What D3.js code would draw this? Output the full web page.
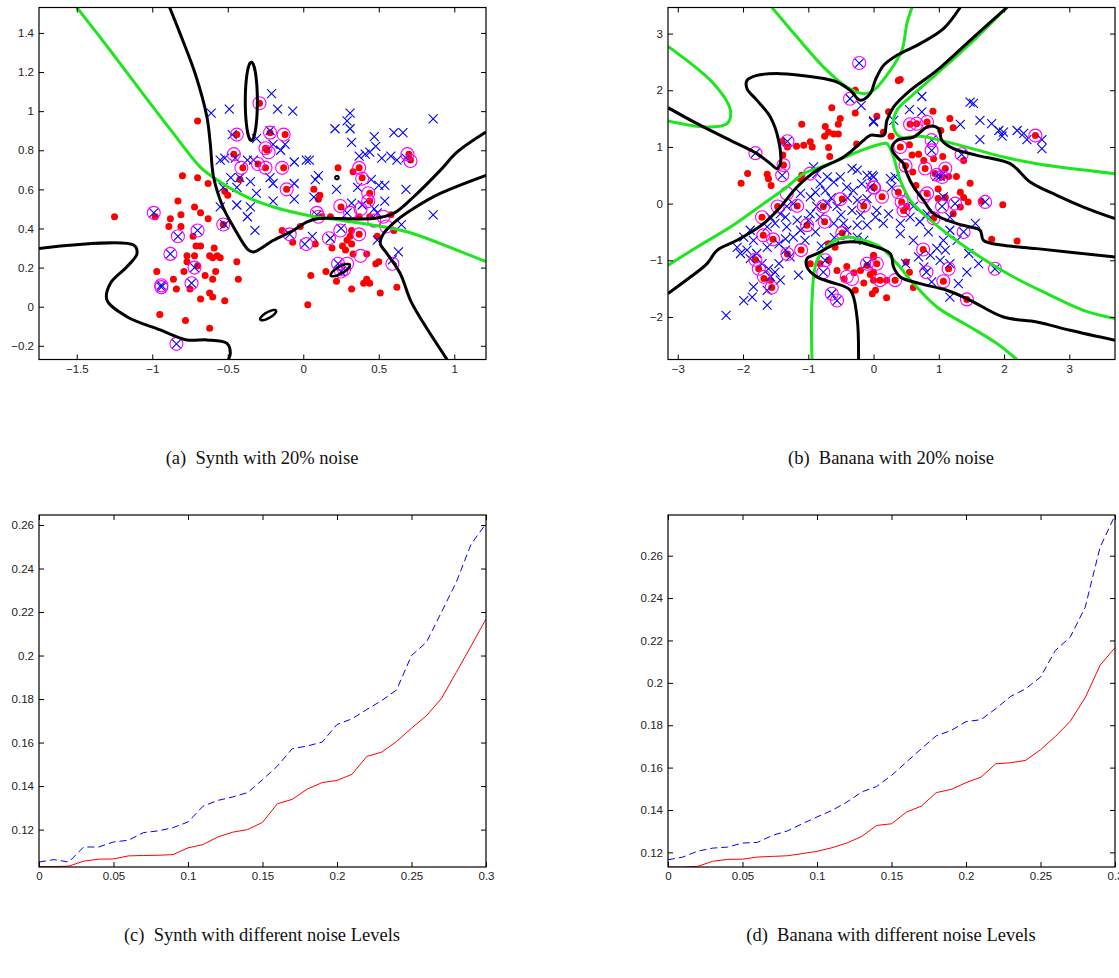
<!DOCTYPE html>
<html>
<head>
<meta charset="utf-8">
<script src="https://cdn.jsdelivr.net/npm/d3@7/dist/d3.min.js"></script>
<style>
  body, html { margin: 0; padding: 0; background: #fff; }
  svg { display: block; }
  .tick text { font-family: "Liberation Sans", Arial, sans-serif; font-size: 11.5px; fill: #222; }
  .caption { font-family: "Liberation Serif", "Times New Roman", serif; font-size: 18.5px; fill: #111; }
</style>
</head>
<body>
<svg></svg>
<script>

// ---- data ----
var synthXTicks = [-1.5, -1, -0.5, 0, 0.5, 1],
    synthYTicks = [-0.2, 0, 0.2, 0.4, 0.6, 0.8, 1, 1.2, 1.4],
    bananaXTicks = [-3, -2, -1, 0, 1, 2, 3],
    bananaYTicks = [-2, -1, 0, 1, 2, 3],
    noiseTicks = [0, 0.05, 0.1, 0.15, 0.2, 0.25, 0.3],
    errTicks = [0.12, 0.14, 0.16, 0.18, 0.2, 0.22, 0.24, 0.26];

var synthRed = [[-0.29,1.04],[-0.70,0.95],[-0.44,0.88],[-0.22,0.89],[-0.12,0.88],[-0.25,0.81],[-0.24,0.80],[-0.46,0.78],[-0.30,0.73],[-0.25,0.71],[-0.40,0.71],[-0.13,0.71],[-0.80,0.67],[-0.70,0.66],[-0.63,0.63],[-0.42,0.65],[-0.52,0.59],[-0.50,0.57],[-0.11,0.60],[-0.83,0.54],[-0.72,0.51],[-0.68,0.48],[-0.81,0.47],[-0.63,0.45],[-0.88,0.45],[-0.98,0.46],[-1.25,0.46],[-0.89,0.41],[-0.81,0.41],[-0.53,0.42],[-0.73,0.36],[-0.71,0.31],[-0.68,0.31],[-0.59,0.30],[-0.62,0.26],[-0.57,0.26],[-0.55,0.25],[-0.60,0.25],[-0.77,0.26],[-0.72,0.26],[-0.77,0.23],[-0.44,0.23],[-0.97,0.18],[-0.79,0.18],[-0.70,0.21],[-0.58,0.18],[-0.65,0.16],[-0.86,0.14],[-0.60,0.14],[-0.43,0.14],[-0.84,0.09],[-0.75,0.09],[-0.62,0.07],[-0.68,0.04],[-0.60,0.05],[-0.52,0.03],[-0.95,-0.04],[-0.78,-0.07],[-0.62,-0.11],[-0.14,0.39],[-0.02,0.41],[-0.07,0.33],[0.03,0.01],
  [0.23,0.71],[0.33,0.69],[0.37,0.71],[0.39,0.66],[0.07,0.60],[0.11,0.57],[0.10,0.55],[0.44,0.58],[0.44,0.54],[0.25,0.51],[0.70,0.78],[0.71,0.75],[0.12,0.46],[0.18,0.46],[0.37,0.46],[0.44,0.46],[0.58,0.47],[0.32,0.39],[0.31,0.36],[0.37,0.37],[0.29,0.34],[0.32,0.32],[0.26,0.31],[0.28,0.29],[0.08,0.32],[0.19,0.30],[0.49,0.36],[0.42,0.27],[0.33,0.27],[0.48,0.22],[0.50,0.23],[0.60,0.39],[0.15,0.18],[0.05,0.16],[0.22,0.13],[0.42,0.14],[0.44,0.12],[0.40,0.12],[0.32,0.09],[0.51,0.07],[0.62,0.10]];

var synthBlue = [[-0.21,1.09],[-0.17,1.01],[-0.07,1.00],[-0.49,1.01],[-0.61,0.99],[-0.22,0.90],[-0.47,0.88],[-0.31,0.86],[-0.20,0.83],[-0.12,0.83],[-0.15,0.80],[-0.55,0.75],[-0.52,0.76],[-0.45,0.76],[-0.37,0.75],[-0.33,0.75],[-0.06,0.74],[0.02,0.75],[-0.48,0.66],[-0.42,0.66],[-0.35,0.64],[-0.22,0.66],[-0.53,0.61],[-0.44,0.61],[-0.31,0.58],[-0.20,0.63],[-0.06,0.63],[-0.06,0.55],[-0.55,0.51],[-0.44,0.52],[-0.35,0.51],[-0.20,0.54],[-0.37,0.46],[-0.32,0.39],[-0.52,0.42],[-0.99,0.48],[-0.83,0.36],[-0.70,0.39],[-0.88,0.27],[-0.72,0.20],[-0.74,0.12],[-0.94,0.11],[-0.94,0.10],[-0.84,-0.19],[-0.09,0.37],[0.01,0.32],
  [0.31,0.99],[0.29,0.95],[0.31,0.91],[0.21,0.91],[0.32,0.84],[0.60,0.89],[0.66,0.89],[0.47,0.87],[0.86,0.96],[0.48,0.82],[0.37,0.77],[0.41,0.78],[0.44,0.79],[0.52,0.76],[0.58,0.77],[0.62,0.75],[0.68,0.76],[0.04,0.75],[0.10,0.67],[0.08,0.65],[0.22,0.60],[0.07,0.56],[0.45,0.65],[0.50,0.62],[0.54,0.62],[0.68,0.60],[0.36,0.61],[0.32,0.53],[0.39,0.52],[0.54,0.54],[0.47,0.50],[0.49,0.48],[0.86,0.47],[0.09,0.47],[0.25,0.40],[0.29,0.48],[0.65,0.42],[0.06,0.36],[0.18,0.35],[0.49,0.34],[0.63,0.28],[0.59,0.24],[0.25,0.18],[0.23,0.22]];

var synthSV = [[-0.29,1.04],[-0.44,0.88],[-0.22,0.89],[-0.13,0.88],[-0.25,0.81],[-0.23,0.79],[-0.46,0.78],[-0.30,0.73],[-0.25,0.71],[-0.41,0.71],[-0.14,0.71],[-0.11,0.60],[-0.53,0.42],[-0.99,0.48],[-0.83,0.36],[-0.70,0.39],[-0.88,0.27],[-0.72,0.20],[-0.74,0.12],[-0.94,0.11],[-0.94,0.10],[-0.84,-0.19],[-0.09,0.37],[0.02,0.32],[0.09,0.48],[0.17,0.35],[0.245,0.39],[0.245,0.515],[0.37,0.71],[0.39,0.655],[0.43,0.58],[0.43,0.54],[0.38,0.50],[0.31,0.48],[0.47,0.44],[0.53,0.46],[0.55,0.41],[0.59,0.22],[0.37,0.37],[0.38,0.26],[0.23,0.22],[0.29,0.22],[0.27,0.19],[0.69,0.78],[0.71,0.745],[0.10,0.46],[0.25,0.18]];

// decision boundaries
var synthBlack = [
  [[-0.885,1.53],[-0.815,1.395],[-0.715,1.19],[-0.638,0.97],[-0.616,0.835],[-0.594,0.663],[-0.532,0.51],[-0.462,0.408],[-0.362,0.289],[-0.329,0.28],[-0.197,0.34],[-0.064,0.391],[0.025,0.434],[0.101,0.451],[0.245,0.451],[0.466,0.451],[0.598,0.477],[0.73,0.561],[0.907,0.697],[1.018,0.79],[1.21,0.893]],
  [[-1.75,0.298],[-1.124,0.315],[-1.101,0.272],[-1.168,0.204],[-1.278,0.119],[-1.3,0.034],[-1.168,-0.051],[-0.947,-0.119],[-0.77,-0.17],[-0.638,-0.17],[-0.505,-0.187],[-0.483,-0.238],[-0.495,-0.27]],
  [[1.21,0.672],[0.907,0.579],[0.73,0.502],[0.62,0.442],[0.532,0.374],[0.51,0.323],[0.554,0.272],[0.642,0.17],[0.709,0.034],[0.797,-0.085],[0.952,-0.27]]
];
var synthGreen = [
  [[-1.499,1.53],[-1.278,1.31],[-1.079,1.106],[-0.859,0.885],[-0.682,0.714],[-0.55,0.638],[-0.351,0.553],[-0.197,0.51],[0.025,0.468],[0.245,0.442],[0.466,0.417],[0.687,0.383],[0.907,0.323],[1.21,0.23]]
];
// closed loops: centre, first and second half-axis vectors
var synthLoops = [
  {c: [-0.344, 1.05], a: [0.04, 0], b: [0, 0.2], w: 3},
  {c: [-0.232, -0.043], a: [0.052, 0.023], b: [0.01, -0.013], w: 2.5},
  {c: [0.245, 0.187], a: [0.063, 0.028], b: [0.0116, -0.0153], w: 2.5},
  {c: [0.223, 0.66], a: [0.012, 0], b: [0, 0.009], w: 2}
];

var bananaRed = [[-0.28,2.00],[-0.64,1.69],[-0.28,1.60],[-0.51,1.50],[-0.54,1.40],[-1.10,1.40],[-0.74,1.36],[-0.69,1.26],[-0.61,1.23],[-0.54,1.23],[-0.75,1.19],[-1.40,1.10],[-1.32,1.00],[-1.18,1.01],[-1.07,1.03],[-0.97,1.09],[-0.94,1.00],[-0.69,0.99],[-0.26,1.05],[-0.67,0.83],[-1.39,0.86],[-1.38,0.68],[-1.93,0.53],[-2.03,0.36],[-1.63,0.52],[-1.61,0.44],[-1.57,0.32],[-1.10,0.50],[-1.12,0.44],[0.01,0.28],[-0.48,0.08],[-0.15,-0.04],[-0.77,-0.05],[-1.17,-0.04],[-1.47,-0.05],[-1.02,-0.38],[-0.75,-0.32],[-1.71,-0.24],[-1.69,-0.56],[-1.54,-0.63],[-1.11,-0.82],[-1.32,-0.89],[-0.48,-0.52],[-0.59,-0.77],[-0.69,-0.71],[-1.81,-0.99],[-1.76,-1.15],[-1.68,-1.32],[-1.58,-1.35],[-1.56,-1.48],[-0.97,-1.06],[-0.82,-1.06],[-0.69,-1.00],[-0.56,-1.18],[-0.41,-1.11],[-0.20,-1.18],[0.00,-0.91],[0.05,-1.06],[-0.10,-1.09],[-0.28,-1.53],[-0.02,-1.59],[0.00,-1.35],[-0.30,-1.22],[-0.05,-1.25],[-0.15,-1.40],[-0.45,-1.33],
  [0.41,2.19],[0.38,2.17],[0.05,1.54],[0.23,1.62],[0.91,1.63],[1.17,1.50],[1.22,1.34],[1.03,1.29],[0.82,1.44],[0.56,1.40],[0.66,1.41],[0.15,1.26],[0.27,1.19],[0.41,1.00],[0.55,1.04],[0.69,0.87],[0.59,0.86],[0.77,0.76],[0.92,0.79],[1.06,0.83],[1.38,0.76],[0.79,0.62],[1.10,0.62],[0.94,0.53],[1.05,0.47],[1.15,0.48],[1.27,0.48],[0.60,0.56],[0.49,0.67],[1.48,0.36],[0.65,0.32],[0.99,0.26],[0.82,0.18],[0.99,0.09],[1.10,0.11],[1.33,0.20],[1.38,0.11],[1.45,0.03],[1.33,-0.06],[1.22,-0.18],[0.92,-0.26],[0.00,0.29],[0.13,0.12],[0.38,0.20],[0.43,0.03],[0.46,-0.12],[0.51,-0.05],[1.98,-0.02],[1.65,0.04],[1.81,-0.63],[2.20,-0.66],[2.48,1.20],[0.76,-0.81],[1.15,-1.15],[1.07,-1.37],[1.43,-1.69],[0.50,-1.03],[0.55,-1.21],[0.61,-1.48],[0.00,-0.94],[0.00,-1.21],[0.10,-1.35],[0.20,-1.35],[0.03,-1.53],[0.20,-1.66],[0.33,-1.35]];

var bananaBlue = [[-0.22,2.48],[-0.36,1.85],[-0.19,1.73],[-1.32,1.10],[-1.81,0.89],[-1.40,0.50],[0.00,1.46],
  [-0.92,0.65],[-0.87,0.53],[-0.71,0.47],[-0.82,0.35],[-0.89,0.20],[-0.74,0.23],[-0.61,0.38],[-0.51,0.47],[-0.33,0.62],[-0.25,0.59],[-0.10,0.50],[0.00,0.47],[-0.41,0.29],[-0.31,0.23],[-0.18,0.35],[-0.05,0.29],[-0.25,0.06],[-0.10,0.09],[-0.33,-0.12],[-0.56,-0.05],[-0.71,0.00],[-0.87,-0.05],[-0.97,0.12],[-1.12,0.18],[-1.23,0.00],[-1.33,-0.05],[-1.43,-0.18],[-1.35,-0.24],[-1.58,-0.24],[-1.51,-0.35],[-1.63,-0.41],[-1.33,-0.41],[-1.17,-0.29],[-0.97,-0.18],[-0.82,-0.24],[-0.89,-0.50],[-1.12,-0.47],[-1.23,-0.59],[-1.35,-0.62],[-0.61,-0.35],[-0.46,-0.35],[-0.25,-0.38],[-0.10,-0.38],[-0.25,-0.59],[-0.41,-0.47],[-0.65,0.10],[-0.50,-0.20],[-0.20,-0.20],[-0.40,0.10],[-1.00,-0.30],[-0.15,-0.65],[-0.60,-0.60],[-0.80,-0.75],[-1.05,-0.65],
  [-1.89,-0.47],[-1.99,-0.59],[-1.84,-0.65],[-2.09,-0.77],[-1.94,-0.82],[-2.04,-0.88],[-1.79,-0.88],[-1.89,-0.97],[-1.63,-0.77],[-1.45,-0.71],[-1.35,-0.82],[-1.28,-0.94],[-1.45,-1.06],[-1.61,-1.15],[-1.51,-1.21],[-1.43,-1.35],[-1.58,-1.29],[-1.71,-1.06],[-1.15,-1.26],[-1.84,-1.47],[-1.63,-1.53],[-1.99,-1.71],[-1.86,-1.65],[-1.63,-1.79],[-2.26,-1.97],[-0.64,-1.59],[-0.56,-1.71],[-0.74,-1.00],[-0.10,-1.06],[-0.77,-1.21],
  [0.74,1.89],[0.55,1.66],[0.74,1.62],[1.48,1.79],[1.53,1.77],[1.33,1.40],[1.63,1.47],[1.81,1.41],[1.92,1.29],[1.99,1.26],[1.97,1.19],[1.63,1.13],[2.20,1.29],[2.30,1.24],[2.35,1.13],[2.58,1.13],[2.58,0.97],[0.00,1.44],[0.31,1.47],[0.89,1.12],[0.89,0.94],[1.35,0.87],[1.07,0.53],[0.97,0.48],[1.02,0.48],[-0.02,0.50],[0.26,0.44],[0.33,0.47],[0.28,0.29],[0.05,-0.12],[0.03,-0.24],[0.15,-0.35],[0.23,-0.18],[0.41,-0.35],[0.56,-0.24],[0.61,-0.05],[0.71,-0.32],[0.82,-0.18],[1.05,-0.05],[1.25,0.00],[1.07,0.12],[1.17,-0.24],[1.38,-0.50],[1.56,-0.35],[0.41,-0.53],[0.61,-0.65],[0.84,-0.50],[1.07,-0.65],[1.17,-0.47],[1.28,-0.65],[0.97,-0.79],[0.87,-0.91],[0.69,-0.94],[0.49,-1.06],[0.77,-1.12],[1.02,-1.00],[1.10,-0.82],[1.46,-0.88],[1.43,-1.21],[1.17,-1.06],[1.30,-1.41],[1.61,-1.06],[0.89,-1.38],[1.17,-1.65],[1.86,-1.15],[0.81,-1.21],[1.71,0.03]];

var bananaSV = [[-0.22,2.48],[-0.36,1.85],[-1.32,1.10],[-1.81,0.89],[-1.38,0.68],[-1.40,0.50],[-0.97,0.53],[0.01,0.28],[-0.51,0.08],[-0.15,-0.04],[-0.77,-0.05],[-1.17,-0.04],[-1.47,-0.05],[-1.33,0.18],[-1.71,-0.24],[-1.02,-0.38],[-0.75,-0.32],[-1.69,-0.56],[-1.54,-0.63],[-1.11,-0.82],[-1.32,-0.89],[-0.48,-0.52],[-1.81,-0.99],[-1.76,-1.15],[-1.68,-1.29],[-1.56,-1.48],[-0.74,-1.00],[-0.10,-1.06],[-0.41,-1.29],[-0.33,-1.33],[-0.77,-1.21],[-0.64,-1.59],[-0.56,-1.71],
  [0.56,1.40],[0.66,1.41],[0.82,1.44],[0.41,1.00],[0.89,1.12],[0.89,0.94],[1.35,0.87],[0.49,0.67],[0.79,0.62],[1.10,0.62],[1.05,0.47],[0.97,0.51],[0.00,0.29],[0.13,0.12],[0.38,0.20],[0.43,0.03],[0.46,-0.12],[0.77,0.12],[0.82,0.18],[0.92,-0.26],[1.05,-0.05],[1.25,0.00],[1.71,0.03],[1.38,-0.50],[0.76,-0.81],[1.15,-1.15],[1.07,-1.37],[1.43,-1.69],[1.86,-1.15],[0.81,-1.21],[2.48,1.20],[0.10,-1.35],[0.33,-1.35],[0.05,-1.06]];

var bananaBlack = [
  [[-3.15,1.693],[-2.704,1.411],[-2.194,1.116],[-1.786,0.882],[-1.582,0.705],[-1.479,0.617],[-1.429,0.705],[-1.455,1.116],[-1.582,1.527],[-1.786,1.822],[-1.939,2.028],[-1.939,2.175],[-1.786,2.263],[-1.429,2.293],[-0.919,2.233],[-0.56,2.145],[-0.357,1.998],[-0.204,1.822],[-0.051,1.94],[0.026,2.175],[0.153,2.439],[0.358,2.616],[0.715,2.822],[1.072,3.086],[1.327,3.46]],
  [[-3.15,-1.587],[-2.807,-1.295],[-2.551,-1.058],[-2.398,-0.824],[-2.092,-0.647],[-1.685,-0.353],[-1.429,-0.06],[-1.173,0.293],[-0.867,0.587],[-0.459,0.822],[-0.153,1.116],[-0.051,1.205],[0.153,1.205],[0.205,1.469],[0.306,1.704],[0.562,1.998],[0.971,2.351],[1.481,2.881],[2.043,3.46]],
  [[3.70,-0.265],[3.216,-0.06],[2.808,0.146],[2.4,0.381],[2.093,0.705],[1.583,0.852],[1.225,0.97],[1.047,1.116],[0.995,1.323],[0.842,1.363],[0.613,1.175],[0.358,1.116],[0.282,0.97],[0.358,0.822],[0.459,0.705],[0.511,0.529],[0.613,0.293],[0.766,0.058],[0.919,-0.176],[1.277,-0.353],[1.481,-0.413],[1.634,-0.471],[1.685,-0.647],[1.991,-0.735],[2.502,-0.794],[3.70,-0.942]],
  [[-0.23,-2.75],[-0.254,-2.0],[-0.357,-1.529],[-0.663,-1.383],[-0.867,-1.295],[-1.02,-1.118],[-1.02,-0.97],[-0.867,-0.882],[-0.56,-0.705],[-0.254,-0.677],[-0.051,-0.735],[0.256,-0.882],[0.306,-1.118],[0.409,-1.295],[0.715,-1.411],[1.124,-1.529],[1.481,-1.705],[1.991,-2.0],[2.502,-2.088],[3.012,-2.235],[3.70,-2.411]]
];
var bananaGreen = [
  [[-3.15,2.774],[-2.45,2.116],[-2.194,1.649],[-2.245,1.411],[-2.551,1.351],[-3.15,1.457]],
  [[-1.556,3.46],[-1.173,2.938],[-0.766,2.409],[-0.407,2.056],[-0.153,1.94],[0.0,1.998],[0.256,2.351],[0.435,2.704],[0.511,3.175],[0.588,3.46]],
  [[-3.15,-1.088],[-2.704,-0.765],[-2.194,-0.413],[-1.685,0],[-1.326,0.293],[-1.072,0.529],[-0.663,0.705],[-0.254,0.91],[0.103,1.046],[0.205,1.058],[0.306,0.822],[0.409,0.411],[0.562,0.058],[0.818,-0.236],[1.124,-0.529],[1.634,-0.942],[2.144,-1.295],[2.655,-1.587],[3.216,-1.882],[3.70,-2.028]],
  [[2.043,3.46],[1.481,2.822],[0.971,2.293],[0.562,1.88],[0.358,1.646],[0.306,1.351],[0.409,1.175],[0.715,1.187],[1.225,1.058],[1.991,0.822],[2.502,0.705],[3.70,0.529]],
  [[-0.943,-2.75],[-0.943,-1.705],[-0.867,-1.0],[-0.663,-0.705],[-0.407,-0.589],[-0.153,-0.647],[0.103,-0.765],[0.358,-1.058],[0.613,-1.411],[0.971,-1.824],[1.481,-2.176],[1.89,-2.469],[2.196,-2.75]]
];

var noiseLevels = [0,0.01,0.02,0.03,0.04,0.05,0.06,0.07,0.08,0.09,0.1,0.11,0.12,0.13,0.14,0.15,0.16,0.17,0.18,0.19,0.2,0.21,0.22,0.23,0.24,0.25,0.26,0.27,0.28,0.29,0.3];
var synthErrRed  = [0.1030,0.1030,0.1032,0.1055,0.1064,0.1065,0.1079,0.1081,0.1082,0.1085,0.1116,0.1131,0.1166,0.1188,0.1200,0.1233,0.1319,0.1339,0.1386,0.1416,0.1426,0.1454,0.1536,0.1556,0.1605,0.1666,0.1723,0.1802,0.1922,0.2044,0.2168];
var synthErrBlue = [0.1051,0.1062,0.1051,0.1120,0.1120,0.1143,0.1151,0.1186,0.1194,0.1209,0.1235,0.1307,0.1334,0.1350,0.1370,0.1429,0.1492,0.1572,0.1584,0.1602,0.1683,0.1709,0.1752,0.1793,0.1842,0.2000,0.2061,0.2198,0.2336,0.2512,0.2606];
var bananaErrRed  = [0.1131,0.1131,0.1134,0.1158,0.1167,0.1168,0.1178,0.1181,0.1184,0.1194,0.1205,0.1222,0.1244,0.1275,0.1327,0.1335,0.1390,0.1418,0.1482,0.1497,0.1529,0.1555,0.1618,0.1623,0.1634,0.1684,0.1747,0.1819,0.1930,0.2083,0.2166];
var bananaErrBlue = [0.1165,0.1178,0.1206,0.1220,0.1225,0.1244,0.1247,0.1280,0.1301,0.1335,0.1367,0.1398,0.1437,0.1485,0.1511,0.1563,0.1626,0.1689,0.1750,0.1775,0.1817,0.1826,0.1878,0.1936,0.1972,0.2027,0.2153,0.2216,0.2357,0.2640,0.2790];

var captions = ['(a)\u00a0 Synth with 20% noise', '(b)\u00a0 Banana with 20% noise',
                '(c)\u00a0 Synth with different noise Levels', '(d)\u00a0 Banana with different noise Levels'];

// ---- drawing ----
var svg = d3.select('svg').attr('width', 1119).attr('height', 978);
var defs = svg.append('defs');
var clipCount = 0;
var fmt = d3.format('');

function makePanel(box, xDom, yDom, xTicks, yTicks) {
  var x = d3.scaleLinear().domain(xDom).range([box.l, box.r]),
      y = d3.scaleLinear().domain(yDom).range([box.b, box.t]);
  var id = 'clip' + (clipCount++);
  defs.append('clipPath').attr('id', id).append('rect')
    .attr('x', box.l).attr('y', box.t).attr('width', box.r - box.l).attr('height', box.b - box.t);
  var g = svg.append('g');
  var plot = g.append('g').attr('clip-path', 'url(#' + id + ')');

  function axis(a, tr, labels) {
    var ax = g.append('g').attr('transform', tr)
      .call(a.tickSizeInner(-5).tickSizeOuter(0).tickPadding(5).tickFormat(labels ? fmt : ''));
    ax.select('.domain').remove();
    ax.selectAll('.tick line').attr('stroke', '#000');
    ax.attr('font-family', null).attr('font-size', null);
  }
  axis(d3.axisBottom(x).tickValues(xTicks), 'translate(0,' + box.b + ')', true);
  axis(d3.axisTop(x).tickValues(xTicks), 'translate(0,' + box.t + ')', false);
  axis(d3.axisLeft(y).tickValues(yTicks), 'translate(' + box.l + ',0)', true);
  axis(d3.axisRight(y).tickValues(yTicks), 'translate(' + box.r + ',0)', false);
  g.append('rect').attr('x', box.l).attr('y', box.t)
    .attr('width', box.r - box.l).attr('height', box.b - box.t)
    .attr('fill', 'none').attr('stroke', '#000').attr('stroke-width', 1.2);
  return {x: x, y: y, plot: plot};
}

function drawScatter(p, red, blue, sv, black, green, loops) {
  p.plot.selectAll('circle.red').data(red).enter().append('circle')
    .attr('cx', function(d) { return p.x(d[0]); })
    .attr('cy', function(d) { return p.y(d[1]); })
    .attr('r', 3.5).attr('fill', '#ff0000');
  p.plot.selectAll('path.cross').data(blue).enter().append('path')
    .attr('d', function(d) {
      var cx = p.x(d[0]), cy = p.y(d[1]), s = 4.5;
      return 'M' + (cx - s) + ',' + (cy - s) + 'L' + (cx + s) + ',' + (cy + s) +
             'M' + (cx - s) + ',' + (cy + s) + 'L' + (cx + s) + ',' + (cy - s);
    })
    .attr('stroke', '#0000ff').attr('stroke-width', 1.1).attr('fill', 'none');
  p.plot.selectAll('circle.sv').data(sv).enter().append('circle')
    .attr('cx', function(d) { return p.x(d[0]); })
    .attr('cy', function(d) { return p.y(d[1]); })
    .attr('r', 6.5).attr('fill', 'none').attr('stroke', '#ff00ff').attr('stroke-width', 1.1);

  var line = d3.line().x(function(d) { return p.x(d[0]); }).y(function(d) { return p.y(d[1]); })
    .curve(d3.curveCatmullRom.alpha(0.5));
  p.plot.selectAll('path.green').data(green).enter().append('path')
    .attr('d', line).attr('fill', 'none').attr('stroke', '#1ee61e').attr('stroke-width', 3);
  p.plot.selectAll('path.black').data(black).enter().append('path')
    .attr('d', line).attr('fill', 'none').attr('stroke', '#000').attr('stroke-width', 3)
    .attr('stroke-linejoin', 'round');

  if (loops) {
    var closed = d3.line().x(function(d) { return p.x(d[0]); }).y(function(d) { return p.y(d[1]); })
      .curve(d3.curveCardinalClosed);
    p.plot.selectAll('path.loop').data(loops).enter().append('path')
      .attr('d', function(e) {
        var pts = d3.range(0, 2 * Math.PI, Math.PI / 24).map(function(t) {
          return [e.c[0] + Math.cos(t) * e.a[0] + Math.sin(t) * e.b[0],
                  e.c[1] + Math.cos(t) * e.a[1] + Math.sin(t) * e.b[1]];
        });
        return closed(pts);
      })
      .attr('fill', 'none').attr('stroke', '#000').attr('stroke-width', function(e) { return e.w; });
  }
}

function drawErrors(p, red, blue) {
  var line = d3.line().x(function(d, i) { return p.x(noiseLevels[i]); }).y(function(d) { return p.y(d); });
  p.plot.append('path').datum(blue).attr('d', line)
    .attr('fill', 'none').attr('stroke', '#0000ff').attr('stroke-width', 1).attr('stroke-dasharray', '7,4');
  p.plot.append('path').datum(red).attr('d', line)
    .attr('fill', 'none').attr('stroke', '#ff0000').attr('stroke-width', 1);
}

var pa = makePanel({l: 39, r: 486, t: 7.5, b: 359.5}, [-1.75, 1.21], [-0.27, 1.53], synthXTicks, synthYTicks);
drawScatter(pa, synthRed, synthBlue, synthSV, synthBlack, synthGreen, synthLoops);

var pb = makePanel({l: 668, r: 1115, t: 7.5, b: 359.5}, [-3.15, 3.70], [-2.75, 3.46], bananaXTicks, bananaYTicks);
drawScatter(pb, bananaRed, bananaBlue, bananaSV, bananaBlack, bananaGreen, null);

var pc = makePanel({l: 39, r: 486, t: 515, b: 867}, [0, 0.3], [0.1028, 0.2646], noiseTicks, errTicks);
drawErrors(pc, synthErrRed, synthErrBlue);

var pd = makePanel({l: 668, r: 1115, t: 515, b: 867}, [0, 0.3], [0.1131, 0.2792], noiseTicks, errTicks);
drawErrors(pd, bananaErrRed, bananaErrBlue);

svg.selectAll('text.caption').data(captions).enter().append('text')
  .attr('class', 'caption')
  .attr('x', function(d, i) { return i % 2 ? 891 : 262; })
  .attr('y', function(d, i) { return i < 2 ? 464 : 941; })
  .attr('text-anchor', 'middle')
  .text(function(d) { return d; });

</script>
</body>
</html>
